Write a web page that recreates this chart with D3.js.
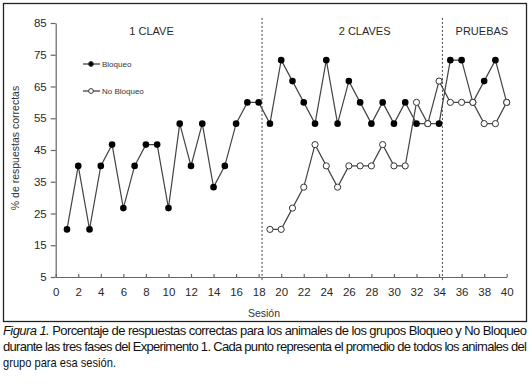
<!DOCTYPE html>
<html>
<head>
<meta charset="utf-8">
<script src="https://cdn.jsdelivr.net/npm/d3@7"></script>
<style>
  body { margin: 0; background: #fff; }
  svg { display: block; font-family: "Liberation Sans", Arial, sans-serif; }
</style>
</head>
<body>
<div id="chart"></div>
<script>
// Data
const sessions = d3.range(1, 41)
const bloqueo = [20, 40, 20, 40, 46.7, 26.7, 40, 46.7, 46.7, 26.7,
  53.3, 40, 53.3, 33.3, 40, 53.3, 60, 60, 53.3, 73.3,
  66.7, 60, 53.3, 73.3, 53.3, 66.7, 60, 53.3, 60, 53.3,
  60, 53.3, 53.3, 53.3, 73.3, 73.3, 60, 66.7, 73.3, 60]
const noBloqueoSessions = d3.range(19, 41)
const noBloqueo = [20, 20, 26.7, 33.3, 46.7, 40, 33.3, 40, 40, 40,
  46.7, 40, 40, 60, 53.3, 66.7, 60, 60, 60, 53.3, 53.3, 60]
const yTicks = [5, 15, 25, 35, 45, 55, 65, 75, 85]
const xTicks = d3.range(0, 41, 2)
const phaseBreaks = [18.3, 34.3]
const phaseNames = ['1 CLAVE', '2 CLAVES', 'PRUEBAS']
const phaseCenters = [8.5, 27.4, 37.8]
const seriesNames = ['Bloqueo', 'No Bloqueo']

function draw() {
  const width = 532, height = 387

  const svg = d3.select('#chart')
    .append('svg')
    .attr('width', width)
    .attr('height', height)

  // frame
  svg.append('rect')
    .attr('x', 3.5).attr('y', 3.5)
    .attr('width', 523).attr('height', 318)
    .attr('fill', 'none')
    .attr('stroke', '#222')
    .attr('stroke-width', 1.3)

  // Scales
  const xScale = d3.scaleLinear().domain([0, 40]).range([55.7, 506.7])
  const yScale = d3.scaleLinear().domain([5, 85]).range([277, 23])

  // Axes
  const yAxis = d3.axisLeft(yScale)
    .tickValues(yTicks)
    .tickSize(5)
    .tickSizeOuter(0)
    .tickPadding(4)
  const yg = svg.append('g')
    .attr('transform', `translate(${xScale(0)},0)`)
    .call(yAxis)

  const xAxis = d3.axisBottom(xScale)
    .tickValues(xTicks)
    .tickSize(-3)
    .tickSizeOuter(0)
    .tickPadding(11)
  const xg = svg.append('g')
    .attr('transform', `translate(0,${yScale(5)})`)
    .call(xAxis)

  ;[xg, yg].forEach(g => {
    g.select('.domain').attr('stroke', '#666').attr('stroke-width', 1.2)
    g.selectAll('.tick line').attr('stroke', '#666').attr('stroke-width', 1.2)
    g.selectAll('.tick text')
      .attr('fill', '#2a2a2a')
      .style('font-size', '11.5px')
      .style('font-family', '"Liberation Sans", Arial, sans-serif')
  })

  // phase separators
  svg.append('g')
    .selectAll('line')
    .data(phaseBreaks)
    .join('line')
    .attr('x1', d => xScale(d)).attr('x2', d => xScale(d))
    .attr('y1', yScale(86.6)).attr('y2', yScale(3.4))
    .attr('stroke', '#444')
    .attr('stroke-width', 1)
    .attr('stroke-dasharray', '2,2')

  svg.append('g')
    .selectAll('text')
    .data(phaseNames)
    .join('text')
    .attr('x', (d, i) => xScale(phaseCenters[i]))
    .attr('y', 35)
    .attr('text-anchor', 'middle')
    .attr('fill', '#2a2a2a')
    .style('font-size', '11px')
    .text(d => d)

  // lines
  const line = d3.line()
    .x(d => xScale(d[0]))
    .y(d => yScale(d[1]))

  const bData = sessions.map((s, i) => [s, bloqueo[i]])
  const nData = noBloqueoSessions.map((s, i) => [s, noBloqueo[i]])

  svg.append('path')
    .attr('d', line(bData))
    .attr('fill', 'none')
    .attr('stroke', '#444')
    .attr('stroke-width', 1.2)

  svg.append('path')
    .attr('d', line(nData))
    .attr('fill', 'none')
    .attr('stroke', '#444')
    .attr('stroke-width', 1.2)

  svg.append('g')
    .selectAll('circle')
    .data(bData)
    .join('circle')
    .attr('cx', d => xScale(d[0]))
    .attr('cy', d => yScale(d[1]))
    .attr('r', 3.3)
    .attr('fill', '#000')

  svg.append('g')
    .selectAll('circle')
    .data(nData)
    .join('circle')
    .attr('cx', d => xScale(d[0]))
    .attr('cy', d => yScale(d[1]))
    .attr('r', 3.1)
    .attr('fill', '#fff')
    .attr('stroke', '#333')
    .attr('stroke-width', 1)

  // legend
  const legend = svg.append('g')
    .selectAll('g')
    .data(seriesNames)
    .join('g')
    .attr('transform', (d, i) => `translate(83,${64 + i * 27})`)

  legend.append('line')
    .attr('x1', 0).attr('x2', 17)
    .attr('stroke', '#333').attr('stroke-width', 1.2)
  legend.append('circle')
    .attr('cx', 8).attr('r', 2.4)
    .attr('fill', (d, i) => i === 0 ? '#000' : '#fff')
    .attr('stroke', '#333').attr('stroke-width', 1)
  legend.append('text')
    .attr('x', 19).attr('y', 3)
    .attr('fill', '#333')
    .style('font-size', '8px')
    .text(d => d)

  // axis titles
  svg.append('text')
    .attr('transform', 'translate(19,148) rotate(-90)')
    .attr('text-anchor', 'middle')
    .attr('fill', '#333')
    .style('font-size', '10.5px')
    .text('% de respuestas correctas')

  svg.append('text')
    .attr('x', 264).attr('y', 317)
    .attr('text-anchor', 'middle')
    .attr('fill', '#333')
    .style('font-size', '10.5px')
    .text('Sesión')

  // caption
  const cap = svg.append('g')
    .style('font-family', '"Liberation Sans Narrow", "Liberation Sans", Arial, sans-serif')
    .style('font-size', '13px')
    .attr('fill', '#111')

  const l1 = cap.append('text')
    .attr('x', 3).attr('y', 335)
    .attr('textLength', 524)
    .attr('lengthAdjust', 'spacing')
  l1.append('tspan').style('font-style', 'italic').text('Figura 1.')
  l1.append('tspan').text(' Porcentaje de respuestas correctas para los animales de los grupos Bloqueo y No Bloqueo')

  cap.append('text')
    .attr('x', 3).attr('y', 351)
    .attr('textLength', 524)
    .attr('lengthAdjust', 'spacing')
    .text('durante las tres fases del Experimento 1. Cada punto representa el promedio de todos los animales del')

  cap.append('text')
    .attr('x', 3).attr('y', 367)
    .attr('textLength', 113)
    .attr('lengthAdjust', 'spacingAndGlyphs')
    .text('grupo para esa sesión.')
}

draw()
</script>
</body>
</html>
